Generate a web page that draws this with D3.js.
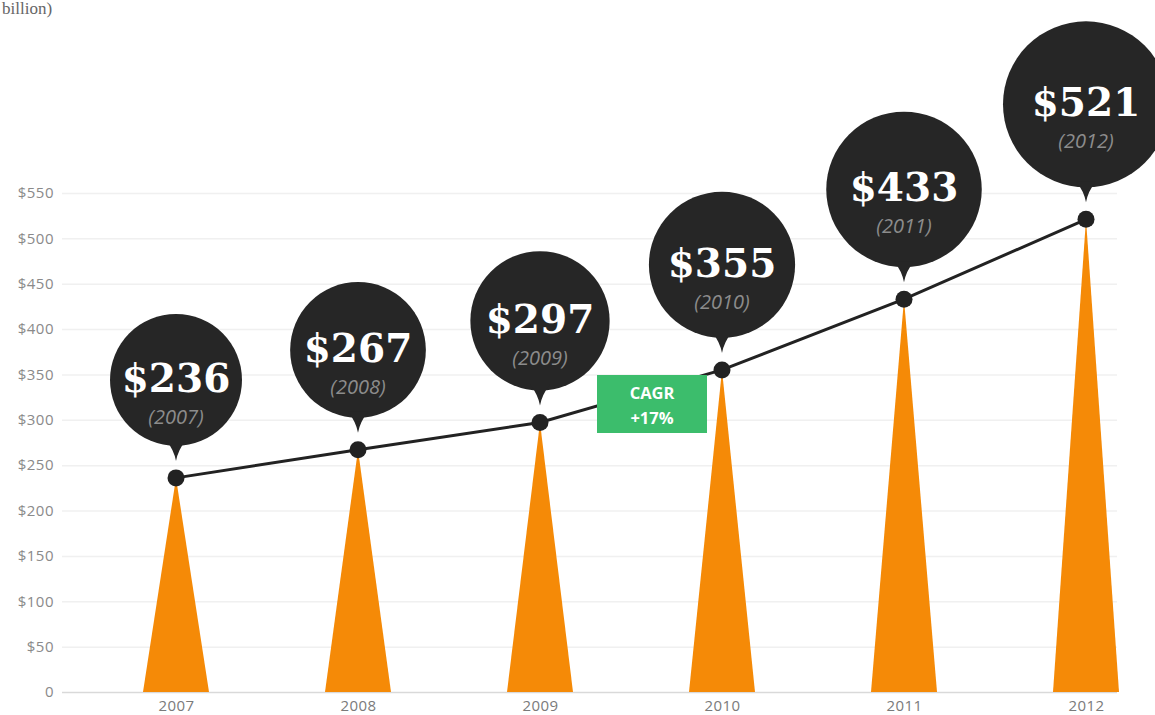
<!DOCTYPE html>
<html><head><meta charset="utf-8">
<script src="https://cdn.jsdelivr.net/npm/d3@7"></script>
<style>
html,body{margin:0;padding:0;background:#fff;overflow:hidden;}
</style></head>
<body>
<svg id="chart" width="1155" height="715"></svg>
<script>
const years = ["2007","2008","2009","2010","2011","2012"];
const values = [236, 267, 297, 355, 433, 521];
const yTicks = [0,50,100,150,200,250,300,350,400,450,500,550];
const unitNote = "billion)";
const cagrLines = ["CAGR","+17%"];

const svg = d3.select("#chart");
const x = d3.scalePoint().domain(years).range([176, 1086]);
const y = d3.scaleLinear().domain([0, 550]).range([692, 193]);
const r = d3.scaleLinear().domain([236, 521]).range([66, 83]);

// unit note (top-left)
svg.append("text").attr("x", 2).attr("y", 14)
  .attr("font-family", "Liberation Serif, serif").attr("font-size", 17)
  .attr("fill", "#666").text(unitNote);

// gridlines + y labels
const yAxis = d3.axisLeft(y).tickValues(yTicks)
  .tickFormat(d => d === 0 ? "0" : "$" + d)
  .tickSize(-(1117 - 62)).tickPadding(8);
const gy = svg.append("g").attr("transform", "translate(62,0)").call(yAxis);
gy.select(".domain").remove();
gy.selectAll(".tick line").attr("stroke", d => d === 0 ? "#d9d9d9" : "#f0f0f0").attr("stroke-width", 1.5);
gy.selectAll(".tick text").attr("fill", "#8a8a8a")
  .attr("font-family", "Open Sans, sans-serif").attr("font-size", 15)
  .attr("letter-spacing", 0.5);

// x labels
const xAxis = d3.axisBottom(x).tickSize(0).tickPadding(8);
const gx = svg.append("g").attr("transform", "translate(0,692)").call(xAxis);
gx.select(".domain").remove();
gx.selectAll(".tick text").attr("fill", "#7a7a7a")
  .attr("font-family", "Open Sans, sans-serif").attr("font-size", 15)
  .attr("letter-spacing", 0.4);

const data = years.map((yr, i) => ({yr, v: values[i]}));

// orange spikes
const halfBase = 33;
svg.append("g").selectAll("path").data(data).join("path")
  .attr("d", d => `M${x(d.yr) - halfBase},${y(0)} L${x(d.yr)},${y(d.v)} L${x(d.yr) + halfBase},${y(0)} Z`)
  .attr("fill", "#f58a07");

// line
svg.append("path").datum(data)
  .attr("d", d3.line().x(d => x(d.yr)).y(d => y(d.v)))
  .attr("fill", "none").attr("stroke", "#222").attr("stroke-width", 3);

// dots
svg.append("g").selectAll("circle").data(data).join("circle")
  .attr("cx", d => x(d.yr)).attr("cy", d => y(d.v)).attr("r", 8.5).attr("fill", "#222");

// bubbles
const gap = 32;
const bub = svg.append("g").selectAll("g").data(data).join("g")
  .attr("transform", d => `translate(${x(d.yr)},${y(d.v) - gap - r(d.v)})`);
bub.append("circle").attr("r", d => r(d.v)).attr("fill", "#262626");
bub.append("path")
  .attr("d", d => { const rr = r(d.v); return `M-10,${rr - 6} Q-2,${rr + 4} 0,${rr + 15} Q2,${rr + 4} 10,${rr - 6} Z`; })
  .attr("fill", "#262626");
bub.append("text").attr("text-anchor", "middle").attr("y", 12)
  .attr("font-family", "DejaVu Serif, serif").attr("font-weight", "bold")
  .attr("font-size", 39).attr("fill", "#fff").text(d => "$" + d.v);
bub.append("text").attr("text-anchor", "middle").attr("y", 44)
  .attr("font-family", "Open Sans, sans-serif").attr("font-style", "italic")
  .attr("font-size", 20).attr("fill", "#8c8c8c").text(d => "(" + d.yr + ")");

// CAGR box
const cg = svg.append("g");
cg.append("rect").attr("x", 597).attr("y", 375).attr("width", 110).attr("height", 58).attr("fill", "#3cbd6c");
cg.selectAll("text").data(cagrLines).join("text")
  .attr("x", 652).attr("y", (d, i) => 399 + i * 25).attr("text-anchor", "middle")
  .attr("font-family", "Open Sans, sans-serif").attr("font-weight", "bold")
  .attr("font-size", 16.5).attr("fill", "#fff").text(d => d);
</script>
</body></html>
